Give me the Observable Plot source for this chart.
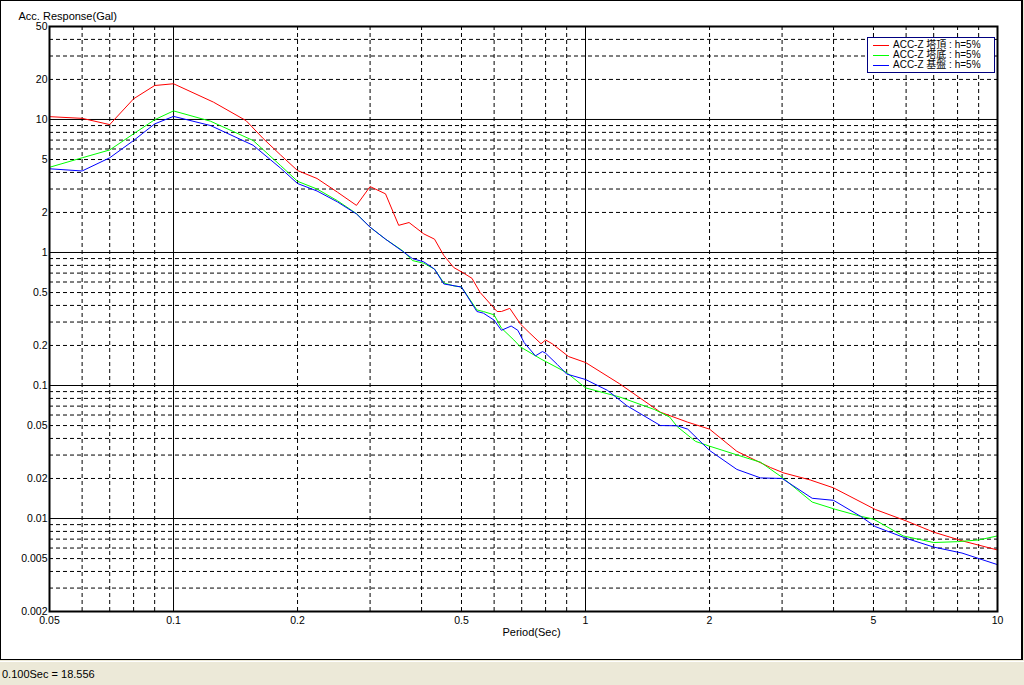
<!DOCTYPE html>
<html><head><meta charset="utf-8">
<script src="https://cdn.jsdelivr.net/npm/d3@7"></script>
<script src="https://cdn.jsdelivr.net/npm/@observablehq/plot@0.6"></script>
<style>
html,body{margin:0;padding:0;background:#ECE9D8;width:1024px;height:685px;overflow:hidden;font-family:"Liberation Sans",Arial,"Noto Sans CJK JP",sans-serif;}
#win{position:absolute;left:0;top:0;width:1023px;height:660px;box-sizing:border-box;border:1px solid #000;border-right:2px solid #000;background:#fff;}
#chart{position:absolute;left:0;top:0;}
#legend{position:absolute;left:867px;top:37px;width:128px;height:36px;box-sizing:border-box;border:1px solid #000080;background:#fff;color:#000;}
.row{position:absolute;left:0;width:126px;height:10px;}
.sw{position:absolute;left:5px;top:5px;width:16px;height:0;border-top:1px solid;}
.lt{position:absolute;left:25px;top:0;display:block;height:10px;line-height:10px;font-size:10px;white-space:nowrap;font-family:"Liberation Sans",Arial,"Noto Sans CJK JP",sans-serif;}
#status{position:absolute;left:0;top:661px;width:1024px;height:24px;font-size:11px;line-height:24px;padding-left:2px;box-sizing:border-box;border-top:1px solid #fff;color:#000;}
</style>
</head><body>
<div id="win"></div>
<div id="chart"></div>
<div id="legend"></div>
<div id="status"></div>
<script>
// ---- data ----
const redT = [0.05,0.06,0.07,0.08,0.09,0.1,0.125,0.15,0.165,0.182,0.2,0.223,0.25,0.278,0.3,0.327,0.352,0.373,0.405,0.43,0.453,0.479,0.506,0.53,0.555,0.61,0.625,0.655,0.695,0.73,0.78,0.8,0.83,0.91,1.0,1.21,1.52,1.77,2.0,2.33,2.81,3.03,3.51,4.0,5.05,6.0,7.0,8.2,10];
const redA = [10.5,10.2,9.15,14.3,18.0,18.556,13.5,9.8,7.2,5.4,4.13,3.6,2.84,2.26,3.13,2.76,1.6,1.68,1.38,1.26,0.95,0.77,0.70,0.64,0.50,0.36,0.36,0.38,0.29,0.25,0.206,0.22,0.206,0.165,0.149,0.103,0.063,0.053,0.047,0.032,0.0242,0.022,0.0195,0.017,0.0117,0.0096,0.0079,0.0068,0.0058];

const greenT = [0.05,0.06,0.07,0.08,0.09,0.1,0.123,0.156,0.182,0.2,0.223,0.25,0.278,0.3,0.327,0.36,0.38,0.405,0.43,0.453,0.48,0.5,0.545,0.565,0.6,0.625,0.67,0.695,0.78,0.9,1.0,1.21,1.47,1.6,1.67,1.85,2.0,2.42,2.66,3.0,3.55,4.05,4.65,5.0,5.9,7.0,8.0,9.0,10];
const greenA = [4.37,5.15,5.9,7.8,9.96,11.6,9.7,6.95,4.5,3.43,3.0,2.45,1.96,1.55,1.26,1.03,0.87,0.83,0.75,0.59,0.56,0.55,0.37,0.36,0.34,0.27,0.22,0.195,0.158,0.125,0.096,0.082,0.066,0.058,0.049,0.038,0.035,0.029,0.0265,0.0204,0.0133,0.0117,0.0104,0.0099,0.0074,0.0066,0.0067,0.0069,0.0074];

const blueT = [0.05,0.06,0.07,0.08,0.09,0.1,0.123,0.156,0.182,0.2,0.223,0.25,0.278,0.3,0.327,0.36,0.38,0.405,0.43,0.453,0.5,0.545,0.565,0.6,0.625,0.66,0.685,0.71,0.756,0.786,0.8,0.854,0.9,1.0,1.13,1.26,1.52,1.67,1.77,2.0,2.33,2.66,3.0,3.55,4.0,4.65,5.05,6.0,7.0,8.2,10];
const blueA = [4.26,4.1,5.15,6.95,9.26,10.55,9.0,6.4,4.3,3.3,2.9,2.4,1.95,1.55,1.26,1.02,0.9,0.85,0.75,0.58,0.55,0.36,0.35,0.31,0.26,0.28,0.26,0.21,0.167,0.18,0.175,0.144,0.122,0.111,0.092,0.0705,0.05,0.0498,0.047,0.0325,0.0234,0.0202,0.02,0.0142,0.0137,0.0104,0.0087,0.0071,0.0061,0.0055,0.0045];

const seriesNames = ["ACC-Z 塔頂 : h=5%","ACC-Z 塔底 : h=5%","ACC-Z 基盤 : h=5%"];
const seriesColors = ["#ff0000","#00ff00","#0000ff"];

const xTicks = [0.05,0.1,0.2,0.5,1,2,5,10];
const xTickLabels = ["0.05","0.1","0.2","0.5","1","2","5","10"];
const yTicks = [50,20,10,5,2,1,0.5,0.2,0.1,0.05,0.02,0.01,0.005,0.002];
const yTickLabels = ["50","20","10","5","2","1","0.5","0.2","0.1","0.05","0.02","0.01","0.005","0.002"];
const xMajor = [0.1,1];
const xMinor = [0.06,0.07,0.08,0.09,0.2,0.3,0.4,0.5,0.6,0.7,0.8,0.9,2,3,4,5,6,7,8,9];
const yMajor = [10,1,0.1,0.01];
const yMinor = [40,30,20,9,8,7,6,5,4,3,2,0.9,0.8,0.7,0.6,0.5,0.4,0.3,0.2,0.09,0.08,0.07,0.06,0.05,0.04,0.03,0.02,0.009,0.008,0.007,0.006,0.005,0.004,0.003];

const xLabel = "Period(Sec)";
const yLabel = "Acc. Response(Gal)";
const statusText = "0.100Sec = 18.556";

// ---- build ----
const toRows = (T, A) => T.map((t, i) => ({T: t, A: A[i]}));
const red = toRows(redT, redA), green = toRows(greenT, greenA), blue = toRows(blueT, blueA);
const xTickRows = xTicks.map((v, i) => ({v, label: xTickLabels[i]}));
const yTickRows = yTicks.map((v, i) => ({v, label: yTickLabels[i]}));

const chart = Plot.plot({
  width: 1022, height: 659,
  marginLeft: 49, marginRight: 25, marginTop: 26, marginBottom: 48,
  style: {background: "transparent", fontFamily: "Liberation Sans, Arial, sans-serif", fontSize: "11px", color: "#000"},
  x: {type: "log", domain: [0.05, 10], axis: null},
  y: {type: "log", domain: [0.002, 50], axis: null},
  marks: [
    Plot.ruleY(yMinor, {stroke: "#000", strokeWidth: 1, strokeDasharray: "4,3"}),
    Plot.ruleX(xMinor, {stroke: "#000", strokeWidth: 1, strokeDasharray: "4,3"}),
    Plot.ruleY(yMajor, {stroke: "#000", strokeWidth: 1}),
    Plot.ruleX(xMajor, {stroke: "#000", strokeWidth: 1}),
    Plot.line(red, {x: "T", y: "A", stroke: seriesColors[0], strokeWidth: 1}),
    Plot.line(green, {x: "T", y: "A", stroke: seriesColors[1], strokeWidth: 1}),
    Plot.line(blue, {x: "T", y: "A", stroke: seriesColors[2], strokeWidth: 1}),
    Plot.frame({stroke: "#000", strokeWidth: 2}),
    Plot.text(xTickRows, {x: "v", text: "label", frameAnchor: "bottom", dy: 12.5, fontSize: 10.5, fill: "#000"}),
    Plot.text(yTickRows, {y: "v", text: "label", frameAnchor: "left", dx: -2, dy: 0, fontSize: 10.5, textAnchor: "end", fill: "#000"}),
    Plot.text([yLabel], {frameAnchor: "top-left", dx: -31, dy: -14.5, textAnchor: "start", fill: "#000"}),
    Plot.text([xLabel], {frameAnchor: "bottom", dx: 8, dy: 24, fill: "#000"})
  ]
});
document.getElementById("chart").appendChild(chart);

// legend
const leg = document.getElementById("legend");
const rowTops = [1.5, 11.5, 21.5];
seriesNames.forEach((name, i) => {
  const r = document.createElement("div");
  r.className = "row";
  r.style.top = rowTops[i] + "px";
  const sw = document.createElement("div");
  sw.className = "sw";
  sw.style.borderTopColor = seriesColors[i];
  const t = document.createElement("span");
  t.className = "lt";
  t.textContent = name;
  r.appendChild(sw); r.appendChild(t);
  leg.appendChild(r);
});
document.getElementById("status").textContent = statusText;
</script>
</body></html>
